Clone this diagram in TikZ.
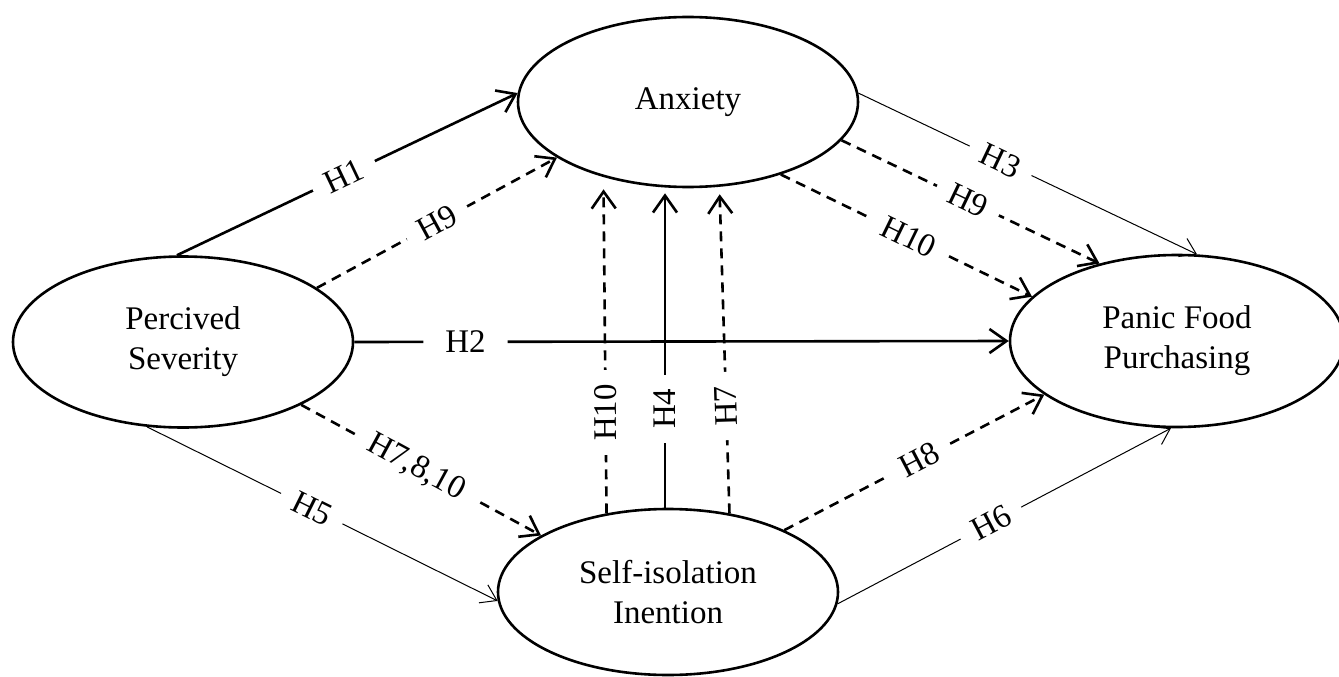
\documentclass[tikz,border=0pt]{standalone}
\usepackage{fontspec}
\setmainfont{Liberation Serif}
\usetikzlibrary{arrows.meta,shapes.geometric,calc}
\begin{document}
\begin{tikzpicture}[x=1pt,y=-1pt,
  construct/.style={ellipse, draw, line width=2.6pt, inner sep=0pt, align=center,
    font=\fontsize{33}{40}\selectfont},
  strong/.style={line width=2.6pt, -{Straight Barb[length=17pt,width=24pt]}},
  weak/.style={line width=1pt, -{Straight Barb[length=15pt,width=20pt]}},
  dashedarrow/.style={strong, dash pattern=on 10pt off 7pt},
  hlabel/.style={fill=white, sloped, inner xsep=14pt, inner ysep=2pt,
    font=\fontsize{33}{36}\selectfont},
  vlabel/.style={hlabel, allow upside down}
]
\useasboundingbox (0,0) rectangle (1339,677);

\node[construct, minimum width=340pt, minimum height=171pt] (ps) at (183,342) {Percived\\Severity};
\node[construct, minimum width=340pt, minimum height=170pt] (anx) at (688,102) {Anxiety};
\node[construct, minimum width=334pt, minimum height=172pt] (pfp) at (1177,341) {Panic Food\\Purchasing};
\node[construct, minimum width=340pt, minimum height=166pt] (si) at (668,592) {Self-isolation\\Inention};

% Perceived Severity -> Anxiety
\draw[strong] (ps.94) -- node[hlabel, pos=0.49] {H1} (anx.177);
\draw[dashedarrow] (ps.22) -- node[hlabel, pos=0.50] {H9} (anx.203);

% Perceived Severity -> Panic Food Purchasing
\draw[strong] (ps.0) -- node[hlabel, pos=0.17, inner xsep=22pt] {H2} (pfp.180);

% Anxiety -> Panic Food Purchasing
\draw[weak] (anx.3) -- node[hlabel, pos=0.42] {H3} (pfp.77);
\draw[dashedarrow] (anx.-14) -- node[hlabel, pos=0.49] {H9} (pfp.135);
\draw[dashedarrow] (anx.-38) -- node[hlabel, pos=0.51] {H10} (pfp.163);

% Perceived Severity -> Self-isolation
\draw[weak] (ps.247) -- node[hlabel, pos=0.47] {H5} (si.183);
\draw[dashedarrow] (ps.-28) -- node[hlabel, pos=0.48] {H7,8,10} (si.156);

% Self-isolation -> Anxiety
\draw[dashedarrow, shorten >=1pt] (si.128) -- node[vlabel, pos=0.31] {H10} ($(si.128 |- anx.south)+(-3,0)$);
\draw[strong, shorten >=5pt] ($(si.north)+(-3,0)$) -- node[vlabel, pos=0.31] {H4} ($(si.north |- anx.south)+(-3,0)$);
\draw[dashedarrow, shorten >=6pt] (si.52) -- node[vlabel, pos=0.33] {H7} ($(si.52 |- anx.south)+(-10,0)$);

% Self-isolation -> Panic Food Purchasing
\draw[dashedarrow] (si.28) -- node[hlabel, pos=0.52] {H8} (pfp.202);
\draw[weak] (si.-4) -- node[hlabel, pos=0.46] {H6} (pfp.266);
\end{tikzpicture}
\end{document}
